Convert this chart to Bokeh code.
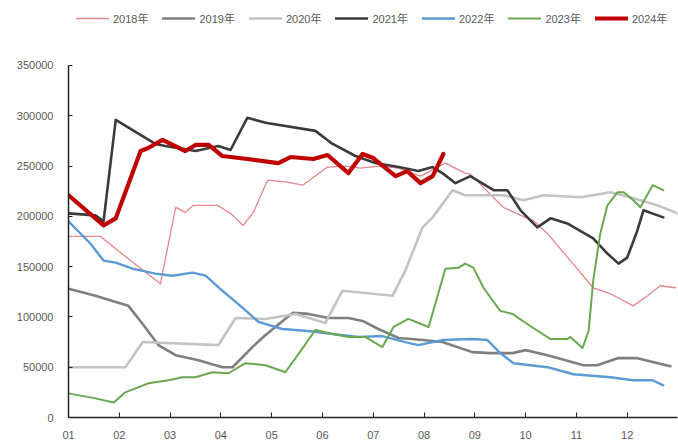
from bokeh.plotting import figure
from bokeh.models import Range1d, FixedTicker, Legend, LegendItem
from bokeh.embed import file_html
from bokeh.resources import INLINE

# x = position in months (1.0 = start of Jan, 13.0 = end of Dec)
month_ticks = [1, 2, 3, 4, 5, 6, 7, 8, 9, 10, 11, 12]
month_labels = ["01", "02", "03", "04", "05", "06", "07", "08", "09", "10", "11", "12"]
y_ticks = [0, 50000, 100000, 150000, 200000, 250000, 300000, 350000]

x2018 = [1.00, 1.63, 2.22, 2.81, 3.11, 3.30, 3.46, 3.93, 4.19, 4.44, 4.64, 4.92, 5.31, 5.61, 6.10, 6.45,
         6.75, 7.10, 7.50, 7.93, 8.42, 8.81, 8.91, 9.56, 9.90, 10.15, 10.43, 10.88, 11.33, 11.67, 12.12,
         12.40, 12.65, 12.95]
y2018 = [180000, 180000, 156000, 133000, 209000, 204000, 211000, 211000, 203000, 191000, 204000, 236000,
         234000, 231000, 249000, 250000, 248000, 250000, 248000, 240000, 253000, 243000, 242000, 209000,
         201000, 196000, 183000, 156000, 129000, 123000, 111000, 121000, 131000, 129000]

x2019 = [1.00, 1.53, 1.98, 2.18, 2.46, 2.77, 3.11, 3.56, 4.03, 4.23, 4.62, 4.88, 5.41, 5.72, 6.12, 6.51,
         6.79, 7.10, 7.50, 7.97, 8.36, 8.95, 9.31, 9.74, 10.00, 10.43, 11.14, 11.41, 11.81, 12.20, 12.85]
y2019 = [128000, 121000, 114000, 111000, 93000, 72000, 62000, 57000, 50000, 50000, 70000, 82000, 104000,
         103000, 99000, 99000, 96000, 88000, 79000, 77000, 75000, 65000, 64000, 64000, 67000, 62000, 52000,
         52000, 59000, 59000, 51000]

x2020 = [1.00, 2.12, 2.46, 3.95, 4.29, 4.88, 5.47, 6.06, 6.39, 7.38, 7.63, 7.97, 8.17, 8.56, 8.81, 9.56,
         9.96, 10.35, 11.08, 11.67, 12.06, 12.59, 12.99]
y2020 = [50000, 50000, 75000, 72000, 99000, 98000, 103000, 94000, 126000, 121000, 146000, 189000, 199000,
         226000, 221000, 221000, 216000, 221000, 219000, 224000, 219000, 211000, 203000]

x2021 = [1.00, 1.53, 1.69, 1.93, 2.71, 2.91, 3.50, 3.95, 4.19, 4.52, 4.88, 5.86, 6.20, 6.65, 7.04, 7.50,
         7.89, 8.17, 8.36, 8.62, 8.91, 9.37, 9.64, 9.90, 10.23, 10.49, 10.82, 11.33, 11.61, 11.83, 12.00,
         12.20, 12.32, 12.71]
y2021 = [203000, 201000, 195000, 296000, 272000, 270000, 265000, 270000, 266000, 298000, 293000, 285000,
         272000, 260000, 253000, 249000, 245000, 249000, 243000, 233000, 240000, 226000, 226000, 206000,
         189000, 198000, 193000, 178000, 163000, 153000, 159000, 186000, 206000, 199000]

x2022 = [1.00, 1.43, 1.69, 1.93, 2.26, 2.71, 3.05, 3.44, 3.70, 4.03, 4.43, 4.74, 5.21, 5.72, 6.20, 6.71,
         7.18, 7.63, 7.89, 8.36, 8.95, 9.25, 9.50, 9.76, 10.43, 10.94, 11.67, 12.12, 12.50, 12.71]
y2022 = [195000, 173000, 156000, 154000, 148000, 143000, 141000, 144000, 141000, 126000, 109000, 95000,
         88000, 86000, 83000, 80000, 81000, 75000, 72000, 77000, 78000, 77000, 64000, 54000, 50000, 43000,
         40000, 37000, 37000, 32000]

x2023 = [1.00, 1.53, 1.89, 2.12, 2.57, 2.97, 3.24, 3.50, 3.83, 4.15, 4.48, 4.88, 5.27, 5.61, 5.86, 6.20,
         6.51, 6.85, 7.18, 7.40, 7.69, 8.09, 8.42, 8.68, 8.81, 8.97, 9.17, 9.50, 9.74, 10.09, 10.49, 10.82,
         10.88, 11.12, 11.24, 11.33, 11.47, 11.61, 11.81, 11.93, 12.12, 12.26, 12.50, 12.71]
y2023 = [24000, 19000, 15000, 25000, 34000, 37000, 40000, 40000, 45000, 44000, 54000, 52000, 45000, 69000,
         87000, 83000, 80000, 80000, 70000, 90000, 98000, 90000, 148000, 149000, 153000, 149000, 129000,
         106000, 103000, 91000, 78000, 78000, 80000, 69000, 86000, 136000, 183000, 211000, 224000, 224000,
         216000, 209000, 231000, 226000]

x2024 = [1.00, 1.69, 1.93, 2.42, 2.57, 2.85, 3.01, 3.30, 3.50, 3.76, 4.03, 4.52, 5.13, 5.37, 5.82, 6.10,
         6.51, 6.79, 7.00, 7.44, 7.67, 7.93, 8.17, 8.38]
y2024 = [221000, 191000, 198000, 265000, 268000, 276000, 272000, 265000, 271000, 271000, 260000, 257000,
         253000, 259000, 257000, 261000, 243000, 262000, 258000, 240000, 245000, 233000, 240000, 262000]

series = [
    ("2018年", x2018, y2018, "#e8858a", 1.3),
    ("2019年", x2019, y2019, "#7f7f7f", 2.6),
    ("2020年", x2020, y2020, "#c3c3c3", 2.6),
    ("2021年", x2021, y2021, "#3b3b3b", 2.6),
    ("2022年", x2022, y2022, "#5b9bd5", 2.4),
    ("2023年", x2023, y2023, "#6aa84f", 2.0),
    ("2024年", x2024, y2024, "#c00000", 4.2),
]

p = figure(width=678, height=441, output_backend="svg", toolbar_location=None,
           x_range=Range1d(1, 12.99), y_range=Range1d(0, 414630),
           min_border_left=68, min_border_right=1, min_border_top=0, min_border_bottom=24)
p.outline_line_color = None
p.grid.visible = False
p.background_fill_color = "white"
p.border_fill_color = "white"

items = []
for name, xs, ys, col, w in series:
    r = p.line(xs, ys, line_color=col, line_width=w, line_join="round", line_cap="round")
    items.append(LegendItem(label=name, renderers=[r]))

font = "Liberation Sans, Noto Sans CJK SC"

p.xaxis.ticker = FixedTicker(ticks=month_ticks)
p.xaxis.major_label_overrides = {t: lab for t, lab in zip(month_ticks, month_labels)}
p.xaxis.minor_tick_line_color = None
p.xaxis.major_tick_in = 5
p.xaxis.major_tick_out = 0
p.xaxis.axis_line_color = "#222222"
p.xaxis.axis_line_width = 1.5
p.xaxis.major_tick_line_color = "#222222"
p.xaxis.major_label_standoff = 13
p.xaxis.major_label_text_font = font
p.xaxis.major_label_text_font_size = "11px"
p.xaxis.major_label_text_color = "#595959"

p.yaxis.ticker = FixedTicker(ticks=y_ticks)
p.yaxis.major_label_overrides = {t: str(t) for t in y_ticks}
p.yaxis.bounds = (0, 350000)
p.yaxis.minor_tick_line_color = None
p.yaxis.major_tick_in = 4
p.yaxis.major_tick_out = 0
p.yaxis.axis_line_color = "#222222"
p.yaxis.axis_line_width = 1.5
p.yaxis.major_tick_line_color = "#222222"
p.yaxis.major_label_standoff = 15
p.yaxis.major_label_text_font = font
p.yaxis.major_label_text_font_size = "11px"
p.yaxis.major_label_text_color = "#595959"

legend = Legend(items=items, orientation="horizontal", location=(8, 389),
                label_text_font=font, label_text_font_size="11px", label_text_color="#595959",
                glyph_width=33, glyph_height=20, label_height=20, label_standoff=4, spacing=14,
                padding=0, margin=0, border_line_color=None, background_fill_alpha=0)
p.add_layout(legend)

open("out.html", "w").write(file_html(p, INLINE))
